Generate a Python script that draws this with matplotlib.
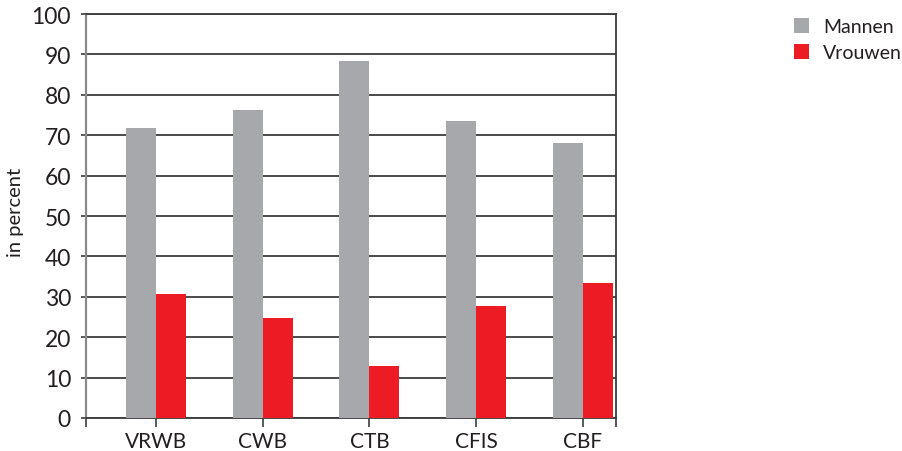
import numpy as np
import matplotlib
matplotlib.use("Agg")
import matplotlib.pyplot as plt

categories = ["VRWB", "CWB", "CTB", "CFIS", "CBF"]
mannen = [71.7, 76.3, 88.4, 73.4, 68.0]
vrouwen = [30.6, 24.7, 12.9, 27.6, 33.5]
y_ticks = [0, 10, 20, 30, 40, 50, 60, 70, 80, 90, 100]
series_labels = ["Mannen", "Vrouwen"]

GREY = "#a7a8ab"
RED = "#ed1c24"
LINE = "#3c3c3c"
SPINE = "#8a8a8a"
TEXT = "#231f20"
FONT = ["Lato", "DejaVu Sans"]

fig = plt.figure(figsize=(9.02, 4.52), dpi=100)
W, H = 902, 452
ax = fig.add_axes([86 / W, (H - 419) / H, (616 - 86) / W, (419 - 15) / H])

x = np.arange(len(categories))
w = 0.281
b1 = ax.bar(x - w / 2, mannen, w, color=GREY, label=series_labels[0], zorder=3)
b2 = ax.bar(x + w / 2, vrouwen, w, color=RED, label=series_labels[1], zorder=3)

x0, x1 = -0.656, 4.31
ax.set_xlim(x0, x1)
ax.set_ylim(0, 100)

ax.set_yticks(y_ticks)
ax.set_yticklabels([str(v) for v in y_ticks], family=FONT, fontsize=16.5, color=TEXT)
ax.yaxis.grid(True, color=LINE, linewidth=1.3, zorder=0)
ax.set_axisbelow(True)
ax.tick_params(axis="y", length=3.8, width=1.2, color=LINE, pad=7)

ax.set_xticks(x)
ax.set_xticklabels(categories, family=FONT, fontsize=15, color=TEXT)
ax.set_xticks([x0, x1], minor=True)
ax.tick_params(axis="x", which="major", length=6.5, width=1.2, color=LINE, pad=3)
ax.tick_params(axis="x", which="minor", length=6.5, width=1.2, color=LINE)

for side in ["top", "bottom", "right"]:
    ax.spines[side].set_color(LINE)
    ax.spines[side].set_linewidth(1.3)
ax.spines["left"].set_color(SPINE)
ax.spines["left"].set_linewidth(1.6)

fig.text(16 / W, 1 - 212 / H, "in percent", family=FONT, fontsize=14.5,
         color=TEXT, rotation=90, ha="center", va="center")

fig.legend(handles=[b1, b2], loc="upper left", bbox_to_anchor=(786 / W, 1 - 11 / H),
           frameon=False, prop={"family": FONT, "size": 14}, labelcolor=TEXT,
           handlelength=0.8, handleheight=0.8, handletextpad=0.7, labelspacing=0.45,
           borderaxespad=0)

fig.savefig("out.png", dpi=100)
